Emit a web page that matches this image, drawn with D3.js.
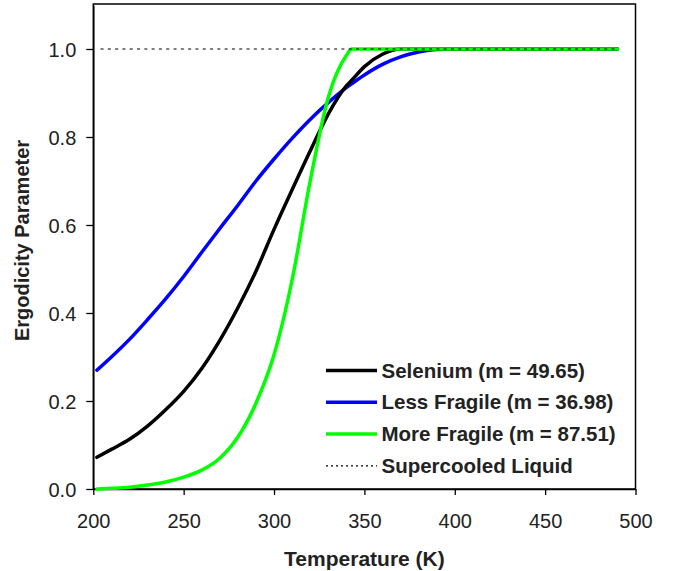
<!DOCTYPE html>
<html>
<head>
<meta charset="utf-8">
<script src="https://cdn.jsdelivr.net/npm/d3@7/dist/d3.min.js"></script>
<style>
  html, body { margin: 0; padding: 0; background: #fff; }
  svg { display: block; }
  text { font-family: "Liberation Sans", Arial, sans-serif; }
</style>
</head>
<body>
<svg id="chart" width="682" height="571"></svg>
<script>
// Ergodicity parameter vs. temperature for three glass formers
const temps = [202, 210, 220, 230, 240, 250, 260, 270, 280, 290, 300, 310, 320, 330, 340, 343, 350, 360, 370, 380, 390, 400, 420, 440, 460, 480, 490];

const selenium = [0.072, 0.09, 0.113, 0.143, 0.18, 0.222, 0.274, 0.338, 0.412, 0.495, 0.59, 0.68, 0.768, 0.852, 0.916, 0.929, 0.96, 0.988, 1.0, 1.0, 1.0, 1.0, 1.0, 1.0, 1.0, 1.0, 1.0];
const lessFragile = [0.27, 0.30, 0.34, 0.385, 0.432, 0.483, 0.538, 0.592, 0.645, 0.70, 0.75, 0.797, 0.84, 0.878, 0.912, 0.921, 0.941, 0.965, 0.982, 0.993, 0.999, 1.0, 1.0, 1.0, 1.0, 1.0, 1.0];
const moreFragile = [0.0, 0.0015, 0.004, 0.009, 0.016, 0.027, 0.043, 0.07, 0.118, 0.195, 0.305, 0.475, 0.70, 0.89, 0.985, 1.0, 1.0, 1.0, 1.0, 1.0, 1.0, 1.0, 1.0, 1.0, 1.0, 1.0, 1.0];

const liquidT = [204, 490];
const liquidY = [1.0, 1.0];

const xTicks = [200, 250, 300, 350, 400, 450, 500];
const yTicks = [0.0, 0.2, 0.4, 0.6, 0.8, 1.0];

const seriesNames = ["Selenium (m = 49.65)", "Less Fragile (m = 36.98)", "More Fragile (m = 87.51)", "Supercooled Liquid"];
const seriesColors = ["#000000", "#0000ff", "#00ff00", "#000000"];

const svg = d3.select("#chart");
const plotLeft = 93.3, plotRight = 635.5, plotTop = 5, plotBottom = 489;

const x = d3.scaleLinear().domain([200, 500]).range([plotLeft, plotRight]);
const y = d3.scaleLinear().domain([0, 1.1]).range([plotBottom, plotTop]);

// plot frame
svg.append("rect")
  .attr("x", plotLeft).attr("y", plotTop - 1)
  .attr("width", plotRight - plotLeft).attr("height", plotBottom - plotTop + 1)
  .attr("fill", "none").attr("stroke", "#000").attr("stroke-width", 1.5);

// axes
const xAxis = svg.append("g")
  .attr("transform", `translate(0,${plotBottom})`)
  .call(d3.axisBottom(x).tickValues(xTicks).tickFormat(d3.format("d")).tickSize(6).tickSizeOuter(0));
const yAxis = svg.append("g")
  .attr("transform", `translate(${plotLeft},0)`)
  .call(d3.axisLeft(y).tickValues(yTicks).tickFormat(d3.format(".1f")).tickSize(7).tickSizeOuter(0));

[xAxis, yAxis].forEach(g => {
  g.select(".domain").attr("stroke", "#000").attr("stroke-width", 1.5);
  g.selectAll(".tick line").attr("stroke", "#000").attr("stroke-width", 1.3);
  g.selectAll(".tick text")
    .attr("font-family", "Liberation Sans, Arial, sans-serif")
    .attr("font-size", 20).attr("fill", "#222");
});
xAxis.selectAll(".tick text").attr("y", 38.5).attr("dy", 0);
yAxis.selectAll(".tick text").attr("x", -17).attr("dy", "0.37em");

// axis titles
svg.append("text")
  .attr("x", (plotLeft + plotRight) / 2).attr("y", 566)
  .attr("text-anchor", "middle")
  .attr("font-size", 21).attr("font-weight", "bold").attr("fill", "#222")
  .text("Temperature (K)");
svg.append("text")
  .attr("transform", `translate(29,${(140 + 341) / 2}) rotate(-90)`)
  .attr("text-anchor", "middle")
  .attr("font-size", 20).attr("font-weight", "bold").attr("fill", "#222")
  .text("Ergodicity Parameter");

// curves
const line = d3.line()
  .x(d => x(d[0]))
  .y(d => y(d[1]))
  .curve(d3.curveMonotoneX);

const series = [
  { vals: lessFragile, color: seriesColors[1] },
  { vals: selenium, color: seriesColors[0] },
  { vals: moreFragile, color: seriesColors[2] }
];
series.forEach(s => {
  svg.append("path")
    .datum(temps.map((t, i) => [t, s.vals[i]]))
    .attr("d", line)
    .attr("fill", "none")
    .attr("stroke", s.color)
    .attr("stroke-width", 3.5)
    .attr("stroke-linecap", "round")
    .attr("stroke-linejoin", "round");
});

// supercooled liquid reference
svg.append("path")
  .datum(liquidT.map((t, i) => [t, liquidY[i]]))
  .attr("d", d3.line().x(d => x(d[0])).y(d => y(d[1])))
  .attr("fill", "none")
  .attr("stroke", "#000")
  .attr("stroke-width", 1.2)
  .attr("stroke-dasharray", "3,4.3");

// legend
const legend = svg.append("g");
seriesNames.forEach((name, i) => {
  const yy = 370.5 + i * 31.8;
  const dotted = i === 3;
  legend.append("line")
    .attr("x1", 326).attr("x2", 377)
    .attr("y1", yy).attr("y2", yy)
    .attr("stroke", seriesColors[i])
    .attr("stroke-width", dotted ? 1.2 : 3.5)
    .attr("stroke-dasharray", dotted ? "2,3" : null);
  legend.append("text")
    .attr("x", 381.5).attr("y", yy)
    .attr("dy", "0.35em")
    .attr("font-size", 20.5).attr("font-weight", "bold").attr("fill", "#222")
    .text(name);
});
</script>
</body>
</html>
